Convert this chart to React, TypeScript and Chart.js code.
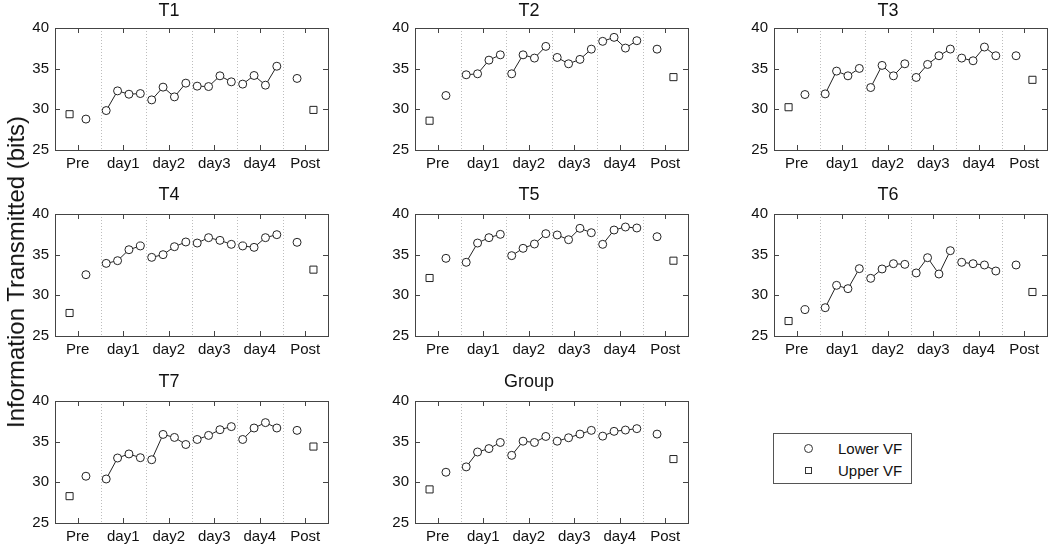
import React, { useEffect, useRef } from "react";
import { Chart, registerables } from "chart.js";

Chart.register(...registerables);

const LABELS = ["Pre", "day1", "day2", "day3", "day4", "Post"];
const Y_TICKS = [25, 30, 35, 40];
const TITLES = ["T1", "T2", "T3", "T4", "T5", "T6", "T7", "Group"];

// Lower VF: Pre, 16 training sessions (4 per day), Post
const T1_LOWER = [28.8, 29.85, 32.27, 31.86, 31.94, 31.16, 32.73, 31.53, 33.22, 32.85, 32.8, 34.12, 33.38, 33.1, 34.16, 32.97, 35.3, 33.8];
const T2_LOWER = [31.7, 34.25, 34.37, 36.05, 36.7, 34.37, 36.7, 36.3, 37.74, 36.38, 35.6, 36.14, 37.4, 38.36, 38.85, 37.53, 38.44, 37.4];
const T3_LOWER = [31.82, 31.9, 34.7, 34.12, 35.03, 32.68, 35.4, 34.12, 35.6, 33.92, 35.52, 36.59, 37.41, 36.3, 35.97, 37.66, 36.59, 36.59];
const T4_LOWER = [32.54, 33.93, 34.26, 35.61, 36.07, 34.67, 35.0, 35.98, 36.56, 36.43, 37.09, 36.76, 36.27, 36.07, 35.9, 37.09, 37.46, 36.52];
const T5_LOWER = [34.55, 34.06, 36.43, 37.09, 37.5, 34.88, 35.78, 36.31, 37.58, 37.42, 36.84, 38.24, 37.7, 36.27, 38.03, 38.4, 38.28, 37.21];
const T6_LOWER = [28.24, 28.48, 31.23, 30.82, 33.28, 32.09, 33.24, 33.89, 33.81, 32.75, 34.63, 32.62, 35.49, 34.06, 33.89, 33.73, 32.99, 33.73];
const T7_LOWER = [30.75, 30.41, 32.99, 33.49, 33.03, 32.78, 35.89, 35.52, 34.65, 35.27, 35.77, 36.47, 36.85, 35.27, 36.68, 37.34, 36.68, 36.39];
const GROUP_LOWER = [31.24, 31.9, 33.73, 34.15, 34.9, 33.32, 35.06, 34.9, 35.64, 35.06, 35.48, 35.93, 36.39, 35.68, 36.27, 36.43, 36.6, 35.93];

// Upper VF: Pre, Post
const T1_UPPER = [29.4, 29.93];
const T2_UPPER = [28.6, 33.96];
const T3_UPPER = [30.26, 33.63];
const T4_UPPER = [27.83, 33.16];
const T5_UPPER = [32.13, 34.26];
const T6_UPPER = [26.84, 30.41];
const T7_UPPER = [28.3, 34.4];
const GROUP_UPPER = [29.13, 32.86];

const LOWER = [T1_LOWER, T2_LOWER, T3_LOWER, T4_LOWER, T5_LOWER, T6_LOWER, T7_LOWER, GROUP_LOWER];
const UPPER = [T1_UPPER, T2_UPPER, T3_UPPER, T4_UPPER, T5_UPPER, T6_UPPER, T7_UPPER, GROUP_UPPER];

const FONT = "'Liberation Sans', Arial, Helvetica, sans-serif";
const COL_LEFT = [55, 415, 774];
const ROW_TOP = [28, 214, 401];
const ROW_TITLE_H = [28, 30, 30];
const PLOT_W = 273;
const PLOT_H = 122;
const Y_AXIS_W = 45;
const X_AXIS_H = 25;
const RIGHT_PAD = 10;
const SESSIONS = 4;
const PAIR_OFFSET = 0.18;

function lowerData(vals: number[]) {
  const pts: { x: number; y: number | null }[] = [];
  pts.push({ x: 0.5 + PAIR_OFFSET, y: vals[0] });
  pts.push({ x: 1, y: null });
  for (let d = 0; d < 4; d++) {
    for (let j = 0; j < SESSIONS; j++) {
      pts.push({ x: 1 + d + (j + 0.5) / SESSIONS, y: vals[1 + d * SESSIONS + j] });
    }
    pts.push({ x: 2 + d, y: null });
  }
  pts.push({ x: 5.5 - PAIR_OFFSET, y: vals[vals.length - 1] });
  return pts;
}

function upperData(vals: number[]) {
  return [
    { x: 0.5 - PAIR_OFFSET, y: vals[0] },
    { x: 5.5 + PAIR_OFFSET, y: vals[1] },
  ];
}

const framePlugin = {
  id: "frame",
  beforeDatasetsDraw(chart: any) {
    const { ctx, chartArea } = chart;
    const { left, top, right, bottom } = chartArea;
    const xs = chart.scales.x;
    const ys = chart.scales.y;
    ctx.save();
    ctx.strokeStyle = "#bdbdbd";
    ctx.lineWidth = 1;
    ctx.setLineDash([1, 2]);
    for (let b = 1; b < LABELS.length; b++) {
      const px = Math.round(xs.getPixelForValue(b)) + 0.5;
      ctx.beginPath();
      ctx.moveTo(px, top);
      ctx.lineTo(px, bottom);
      ctx.stroke();
    }
    ctx.setLineDash([]);
    ctx.strokeStyle = "#444";
    ctx.strokeRect(Math.round(left) + 0.5, Math.round(top) + 0.5, Math.round(right - left), Math.round(bottom - top));
    const TL = 5;
    ctx.beginPath();
    LABELS.forEach((_, i) => {
      const px = Math.round(xs.getPixelForValue(i + 0.5)) + 0.5;
      ctx.moveTo(px, bottom);
      ctx.lineTo(px, bottom - TL);
      ctx.moveTo(px, top);
      ctx.lineTo(px, top + TL);
    });
    Y_TICKS.forEach((v) => {
      const py = Math.round(ys.getPixelForValue(v)) + 0.5;
      ctx.moveTo(left, py);
      ctx.lineTo(left + TL, py);
      ctx.moveTo(right, py);
      ctx.lineTo(right - TL, py);
    });
    ctx.stroke();
    ctx.restore();
  },
};

function Panel({ idx }: { idx: number }) {
  const ref = useRef<HTMLCanvasElement>(null);
  const col = idx % 3;
  const row = Math.floor(idx / 3);
  const titleH = ROW_TITLE_H[row];
  const left = COL_LEFT[col] - Y_AXIS_W;
  const top = ROW_TOP[row] - titleH;
  const w = Y_AXIS_W + PLOT_W + RIGHT_PAD;
  const h = titleH + PLOT_H + X_AXIS_H;

  useEffect(() => {
    if (!ref.current) return;
    const chart = new Chart(ref.current, {
      type: "line",
      data: {
        datasets: [
          {
            label: "Lower VF",
            data: lowerData(LOWER[idx]) as any,
            borderColor: "#222",
            borderWidth: 1,
            pointStyle: "circle",
            pointRadius: 4,
            pointBorderColor: "#222",
            pointBackgroundColor: "#fff",
            pointBorderWidth: 1,
            spanGaps: false,
            tension: 0,
          },
          {
            label: "Upper VF",
            data: upperData(UPPER[idx]) as any,
            showLine: false,
            pointStyle: "rect",
            pointRadius: 5,
            pointBorderColor: "#222",
            pointBackgroundColor: "#fff",
            pointBorderWidth: 1,
          },
        ],
      },
      options: {
        animation: false,
        responsive: false,
        maintainAspectRatio: false,
        devicePixelRatio: 1,
        layout: { padding: { left: 0, right: RIGHT_PAD, top: 0, bottom: 0 } },
        plugins: {
          legend: { display: false },
          tooltip: { enabled: false },
          title: {
            display: true,
            text: TITLES[idx],
            color: "#111",
            font: { family: FONT, size: 18, weight: "normal" as any, lineHeight: 1.2 },
            padding: { top: 0, bottom: titleH - 21.6 },
          },
        },
        scales: {
          x: {
            type: "linear",
            min: 0,
            max: LABELS.length,
            grid: { display: false, drawTicks: false },
            border: { display: false },
            afterBuildTicks: (s: any) => {
              s.ticks = LABELS.map((_, i) => ({ value: i + 0.5 }));
            },
            afterFit: (s: any) => {
              s.height = X_AXIS_H;
            },
            ticks: {
              autoSkip: false,
              maxRotation: 0,
              padding: 5,
              color: "#111",
              font: { family: FONT, size: 15 },
              callback: (_v: any, i: number) => LABELS[i],
            },
          },
          y: {
            min: 25,
            max: 40,
            grid: { display: false, drawTicks: false },
            border: { display: false },
            afterBuildTicks: (s: any) => {
              s.ticks = Y_TICKS.map((v) => ({ value: v }));
            },
            afterFit: (s: any) => {
              s.width = Y_AXIS_W;
            },
            ticks: {
              padding: 6,
              color: "#111",
              font: { family: FONT, size: 15 },
              callback: (v: any) => String(v),
            },
          },
        },
      },
      plugins: [framePlugin],
    });
    return () => chart.destroy();
  }, [idx]);

  return (
    <div style={{ position: "absolute", left, top, width: w, height: h }}>
      <canvas ref={ref} width={w} height={h} style={{ width: w, height: h, display: "block" }} />
    </div>
  );
}

export default function App() {
  return (
    <div style={{ position: "absolute", left: 0, top: 0, width: 1050, height: 545, overflow: "hidden", background: "#fff", fontFamily: FONT }}>
      {TITLES.map((_, i) => (
        <Panel key={i} idx={i} />
      ))}
      <div
        style={{
          position: "absolute",
          left: 16,
          top: 272,
          transform: "translate(-50%, -50%) rotate(-90deg)",
          whiteSpace: "nowrap",
          fontSize: 24,
          color: "#111",
          lineHeight: 1,
        }}
      >
        Information Transmitted (bits)
      </div>
      <div
        style={{
          position: "absolute",
          left: 773,
          top: 433,
          width: 139,
          height: 51,
          border: "1px solid #555",
          boxSizing: "border-box",
        }}
      >
        <div style={{ position: "absolute", left: 30, top: 10, width: 9, height: 9, borderRadius: "50%", border: "1px solid #333", boxSizing: "border-box" }} />
        <div style={{ position: "absolute", left: 64, top: 6, fontSize: 15, lineHeight: "17px", color: "#111" }}>Lower VF</div>
        <div style={{ position: "absolute", left: 31, top: 33, width: 7, height: 7, border: "1px solid #333", boxSizing: "border-box" }} />
        <div style={{ position: "absolute", left: 64, top: 28, fontSize: 15, lineHeight: "17px", color: "#111" }}>Upper VF</div>
      </div>
    </div>
  );
}
